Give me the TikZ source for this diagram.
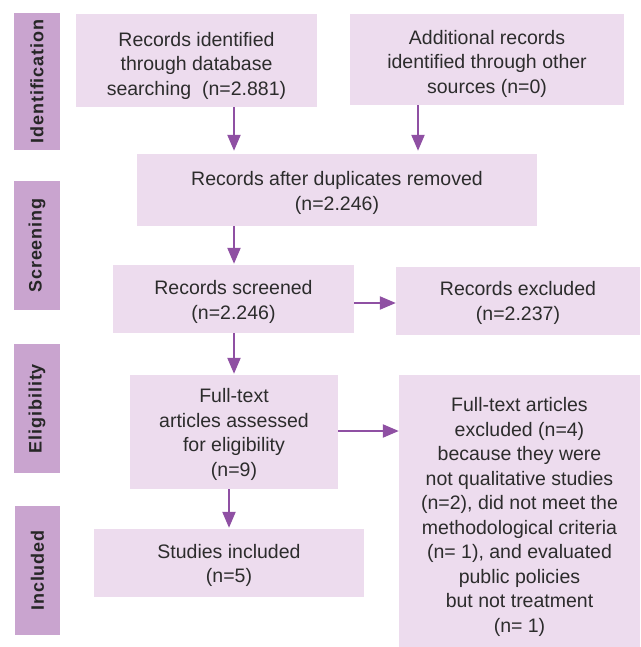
\documentclass[tikz,border=0pt]{standalone}
\usepackage{fontspec}
\setmainfont{Liberation Sans}
\newfontfamily\barfont[LetterSpace=5]{Liberation Sans}
\usetikzlibrary{arrows.meta}
\definecolor{boxfill}{HTML}{EDDCEE}
\definecolor{barfill}{HTML}{C9A4CF}
\definecolor{arrowcol}{HTML}{8F50A3}
\definecolor{txt}{HTML}{2C2C2C}
\begin{document}
\begin{tikzpicture}[x=1pt,y=-1pt,
  flowbox/.style={fill=boxfill, draw=none, inner sep=0pt},
  flowtext/.style={inner sep=0pt, align=center, text=txt,
    font=\fontsize{19.5}{24.5}\selectfont},
  phasebar/.style={fill=barfill, draw=none, inner sep=0pt, rotate=90,
    text=black!85, font=\barfont\bfseries\fontsize{18}{20}\selectfont},
  arr/.style={draw=arrowcol, line width=2.2pt,
    -{Triangle[length=16pt,width=13pt]}}]
\useasboundingbox (0,0) rectangle (640,647);

% phase bars on the left (rotated: minimum width runs along the bar)
\node[phasebar, minimum width=137pt, minimum height=46pt] (pI) at (37,81.5) {Identification};
\node[phasebar, minimum width=129pt, minimum height=46pt] (pS) at (37,245.5) {Screening};
\node[phasebar, minimum width=129pt, minimum height=46pt] (pE) at (37,408.5) {Eligibility};
\node[phasebar, minimum width=129pt, minimum height=45pt] (pN) at (37.5,570.5) {Included};

% flow boxes
\node[flowbox, minimum width=241pt, minimum height=93pt] (b1) at (196.5,60.5) {};
\node[flowbox, minimum width=274pt, minimum height=91pt] (b2) at (487,59.5) {};
\node[flowbox, minimum width=400pt, minimum height=72pt] (b3) at (337,190) {};
\node[flowbox, minimum width=241pt, minimum height=68pt] (b4) at (233.5,299) {};
\node[flowbox, minimum width=244pt, minimum height=68pt] (b5) at (518,301) {};
\node[flowbox, minimum width=208pt, minimum height=114pt] (b6) at (234,432) {};
% this box runs past the lower edge of the page
\node[flowbox, minimum width=241pt, minimum height=280pt] (b7) at (519.5,515) {};
\node[flowbox, minimum width=270pt, minimum height=68pt] (b8) at (229,563) {};

% box texts
\node[flowtext] (t1) at ([yshift=-5pt]b1.center)
  {Records identified\\through database\\searching\ \ (n=2.881)};
\node[flowtext] (t2) at ([yshift=-4pt]b2.center)
  {Additional records\\identified through other\\sources (n=0)};
\node[flowtext] (t3) at ([yshift=-3pt]b3.center)
  {Records after duplicates removed\\(n=2.246)};
\node[flowtext] (t4) at ([yshift=-3pt]b4.center)
  {Records screened\\(n=2.246)};
\node[flowtext] (t5) at ([yshift=-2pt]b5.center)
  {Records excluded\\(n=2.237)};
\node[flowtext] (t6) at ([yshift=-2.5pt]b6.center)
  {Full-text\\articles assessed\\for eligibility\\(n=9)};
\node[flowtext] (t7) at ([yshift=-2pt]b7.center)
  {Full-text articles\\excluded (n=4)\\because they were\\not qualitative studies\\(n=2), did not meet the\\methodological criteria\\(n= 1), and evaluated\\public policies\\but not treatment\\(n= 1)};
\node[flowtext] (t8) at ([yshift=-2.5pt]b8.center)
  {Studies included\\(n=5)};

% connectors
\coordinate (c1) at (234,0);
\coordinate (c2) at (418,0);
\coordinate (c3) at (0,303);
\coordinate (c4) at (0,431);
\draw[arr, shorten >=3pt] (b1.south -| c1) -- (b3.north -| c1);
\draw[arr, shorten >=3pt] (b2.south -| c2) -- (b3.north -| c2);
\draw[arr, shorten >=1pt] (b3.south -| c1) -- (b4.north -| c1);
\draw[arr] (b4.east |- c3) -- (b5.west |- c3);
\draw[arr, shorten >=1pt] (b4.south -| c1) -- (b6.north -| c1);
\draw[arr] (b6.east |- c4) -- (b7.west |- c4);
\draw[arr, shorten >=1pt] (b6.south -| b8.north) -- (b8.north);
\end{tikzpicture}
\end{document}
